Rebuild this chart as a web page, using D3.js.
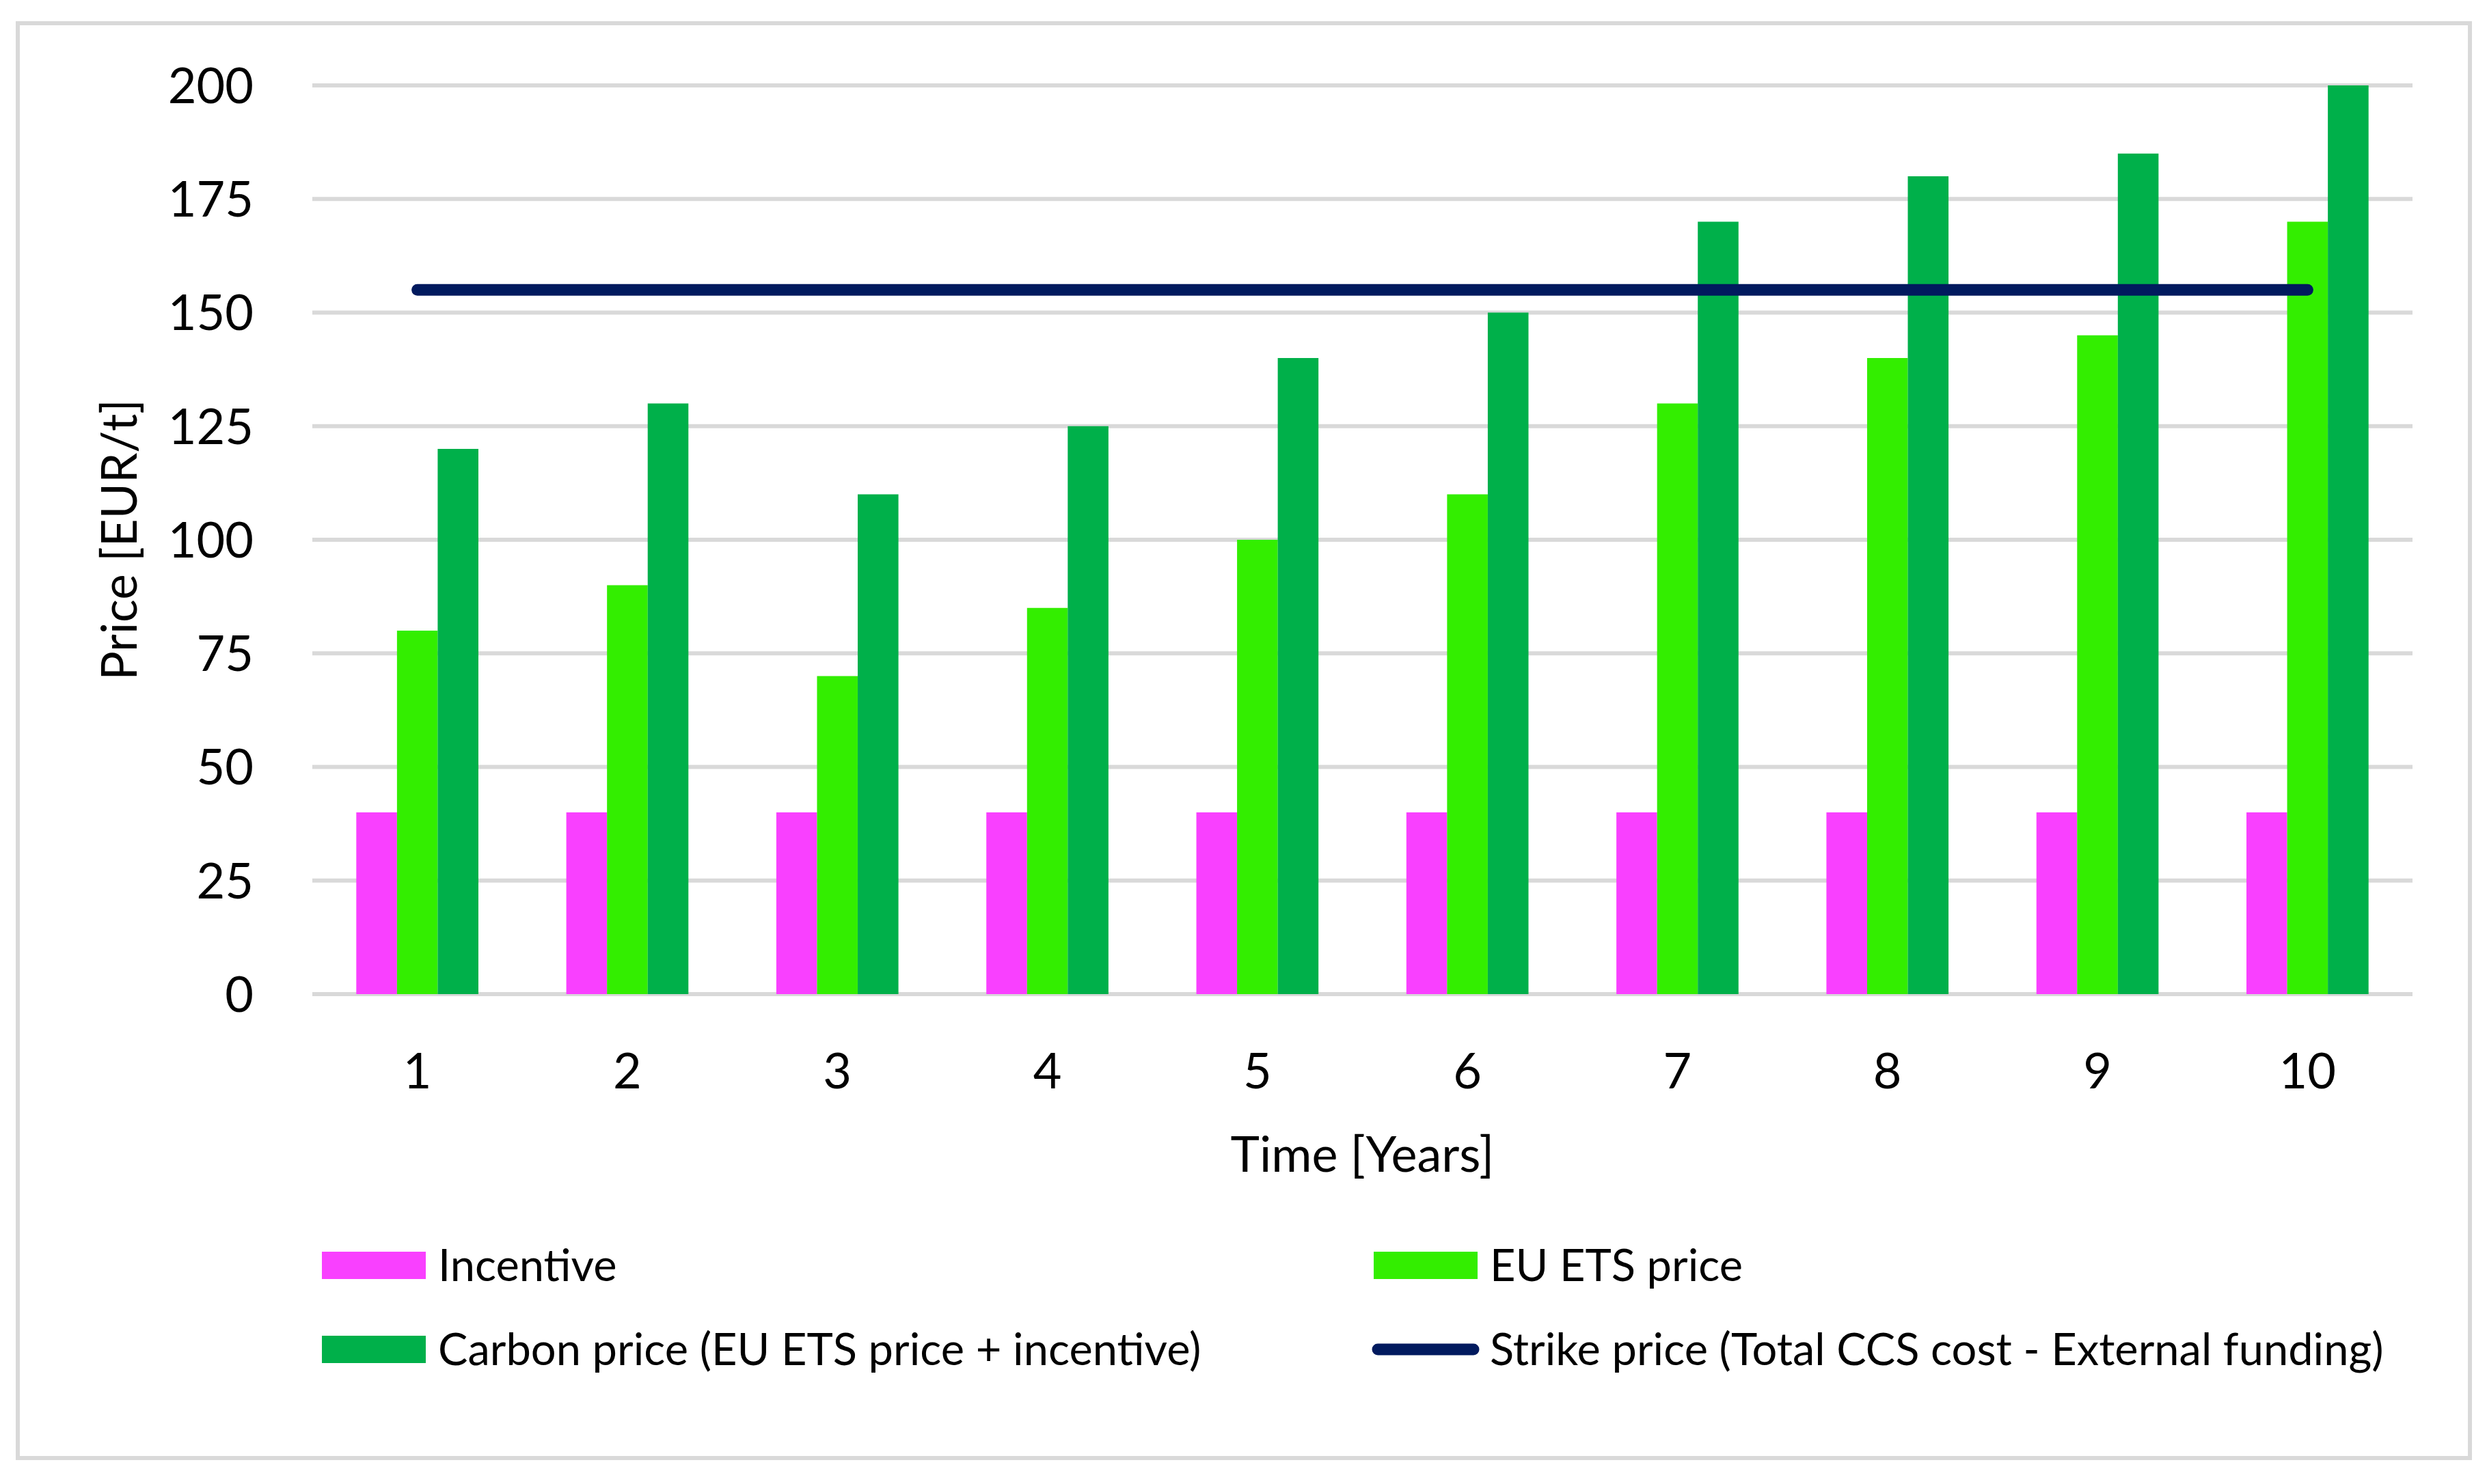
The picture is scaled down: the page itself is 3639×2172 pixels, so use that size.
<!DOCTYPE html>
<html>
<head>
<meta charset="utf-8">
<script src="https://cdn.jsdelivr.net/npm/d3@7"></script>
<style>
  body { margin: 0; background: #fff; }
  text { font-family: "Lato", "Open Sans", sans-serif; fill: #000; }
</style>
</head>
<body>
<div id="chart"></div>
<script>
const years = ["1", "2", "3", "4", "5", "6", "7", "8", "9", "10"];
const incentive = [40, 40, 40, 40, 40, 40, 40, 40, 40, 40];
const etsPrice = [80, 90, 70, 85, 100, 110, 130, 140, 145, 170];
const carbonPrice = [120, 130, 110, 125, 140, 150, 170, 180, 185, 200];
const strikePrice = [155, 155, 155, 155, 155, 155, 155, 155, 155, 155];
const yTicks = [0, 25, 50, 75, 100, 125, 150, 175, 200];
const seriesNames = ["Incentive", "EU ETS price", "Carbon price (EU ETS price + incentive)"];
const lineName = "Strike price (Total CCS cost - External funding)";

const W = 3639, H = 2172;
const colors = ["#f940ff", "#33ee00", "#00b04a"];
const lineColor = "#011a5e";

const svg = d3.select("#chart")
  .append("svg")
  .attr("width", W)
  .attr("height", H);

// chart border
svg.append("rect")
  .attr("x", 26).attr("y", 34)
  .attr("width", 3588).attr("height", 2100)
  .attr("fill", "#fff")
  .attr("stroke", "#d9d9d9")
  .attr("stroke-width", 6);

const x = d3.scaleBand().domain(years).range([457, 3530]);
const x1 = d3.scaleBand().domain(d3.range(3)).range([0, x.bandwidth()]).paddingOuter(1.08);
const y = d3.scaleLinear().domain([0, 200]).range([1455, 125]);

// gridlines
svg.append("g")
  .selectAll("line")
  .data(yTicks)
  .enter()
  .append("line")
  .attr("x1", 457).attr("x2", 3530)
  .attr("y1", d => y(d)).attr("y2", d => y(d))
  .attr("stroke", "#d9d9d9")
  .attr("stroke-width", 6);

// y tick labels
svg.append("g")
  .selectAll("text")
  .data(yTicks)
  .enter()
  .append("text")
  .attr("x", 371)
  .attr("y", d => y(d))
  .attr("dy", "0.36em")
  .attr("text-anchor", "end")
  .style("font-size", "72px")
  .text(d => d);

// bars
const series = [incentive, etsPrice, carbonPrice];
series.forEach((vals, si) => {
  svg.append("g")
    .selectAll("rect")
    .data(vals)
    .enter()
    .append("rect")
    .attr("x", (d, i) => x(years[i]) + x1(si))
    .attr("width", x1.bandwidth())
    .attr("y", d => y(d))
    .attr("height", d => y(0) - y(d))
    .attr("fill", colors[si]);
});

// strike price line
const line = d3.line()
  .x((d, i) => x(years[i]) + x.bandwidth() / 2)
  .y(d => y(d));

svg.append("path")
  .datum(strikePrice)
  .attr("d", line)
  .attr("fill", "none")
  .attr("stroke", lineColor)
  .attr("stroke-width", 17)
  .attr("stroke-linecap", "round");

// x tick labels
svg.append("g")
  .selectAll("text")
  .data(years)
  .enter()
  .append("text")
  .attr("x", d => x(d) + x.bandwidth() / 2)
  .attr("y", 1593)
  .attr("text-anchor", "middle")
  .style("font-size", "72px")
  .text(d => d);

// axis titles
svg.append("text")
  .attr("x", (457 + 3530) / 2)
  .attr("y", 1715)
  .attr("text-anchor", "middle")
  .style("font-size", "72px")
  .text("Time [Years]");

svg.append("text")
  .attr("transform", `translate(200, ${(125 + 1455) / 2}) rotate(-90)`)
  .attr("text-anchor", "middle")
  .style("font-size", "71px")
  .text("Price [EUR/t]");

// legend
const legendItems = [
  { name: seriesNames[0], type: "rect", color: colors[0], x: 471, y: 1852 },
  { name: seriesNames[1], type: "rect", color: colors[1], x: 2010, y: 1852 },
  { name: seriesNames[2], type: "rect", color: colors[2], x: 471, y: 1975 },
  { name: lineName, type: "line", color: lineColor, x: 2010, y: 1975 }
];

const gLegend = svg.append("g");
legendItems.forEach(it => {
  if (it.type === "rect") {
    gLegend.append("rect")
      .attr("x", it.x).attr("y", it.y - 20)
      .attr("width", 152).attr("height", 40)
      .attr("fill", it.color);
  } else {
    gLegend.append("line")
      .attr("x1", it.x + 6).attr("x2", it.x + 146)
      .attr("y1", it.y).attr("y2", it.y)
      .attr("stroke", it.color)
      .attr("stroke-width", 17)
      .attr("stroke-linecap", "round");
  }
  gLegend.append("text")
    .attr("x", it.x + 170)
    .attr("y", it.y)
    .attr("dy", "0.36em")
    .style("font-size", "65px")
    .text(it.name);
});
</script>
</body>
</html>
